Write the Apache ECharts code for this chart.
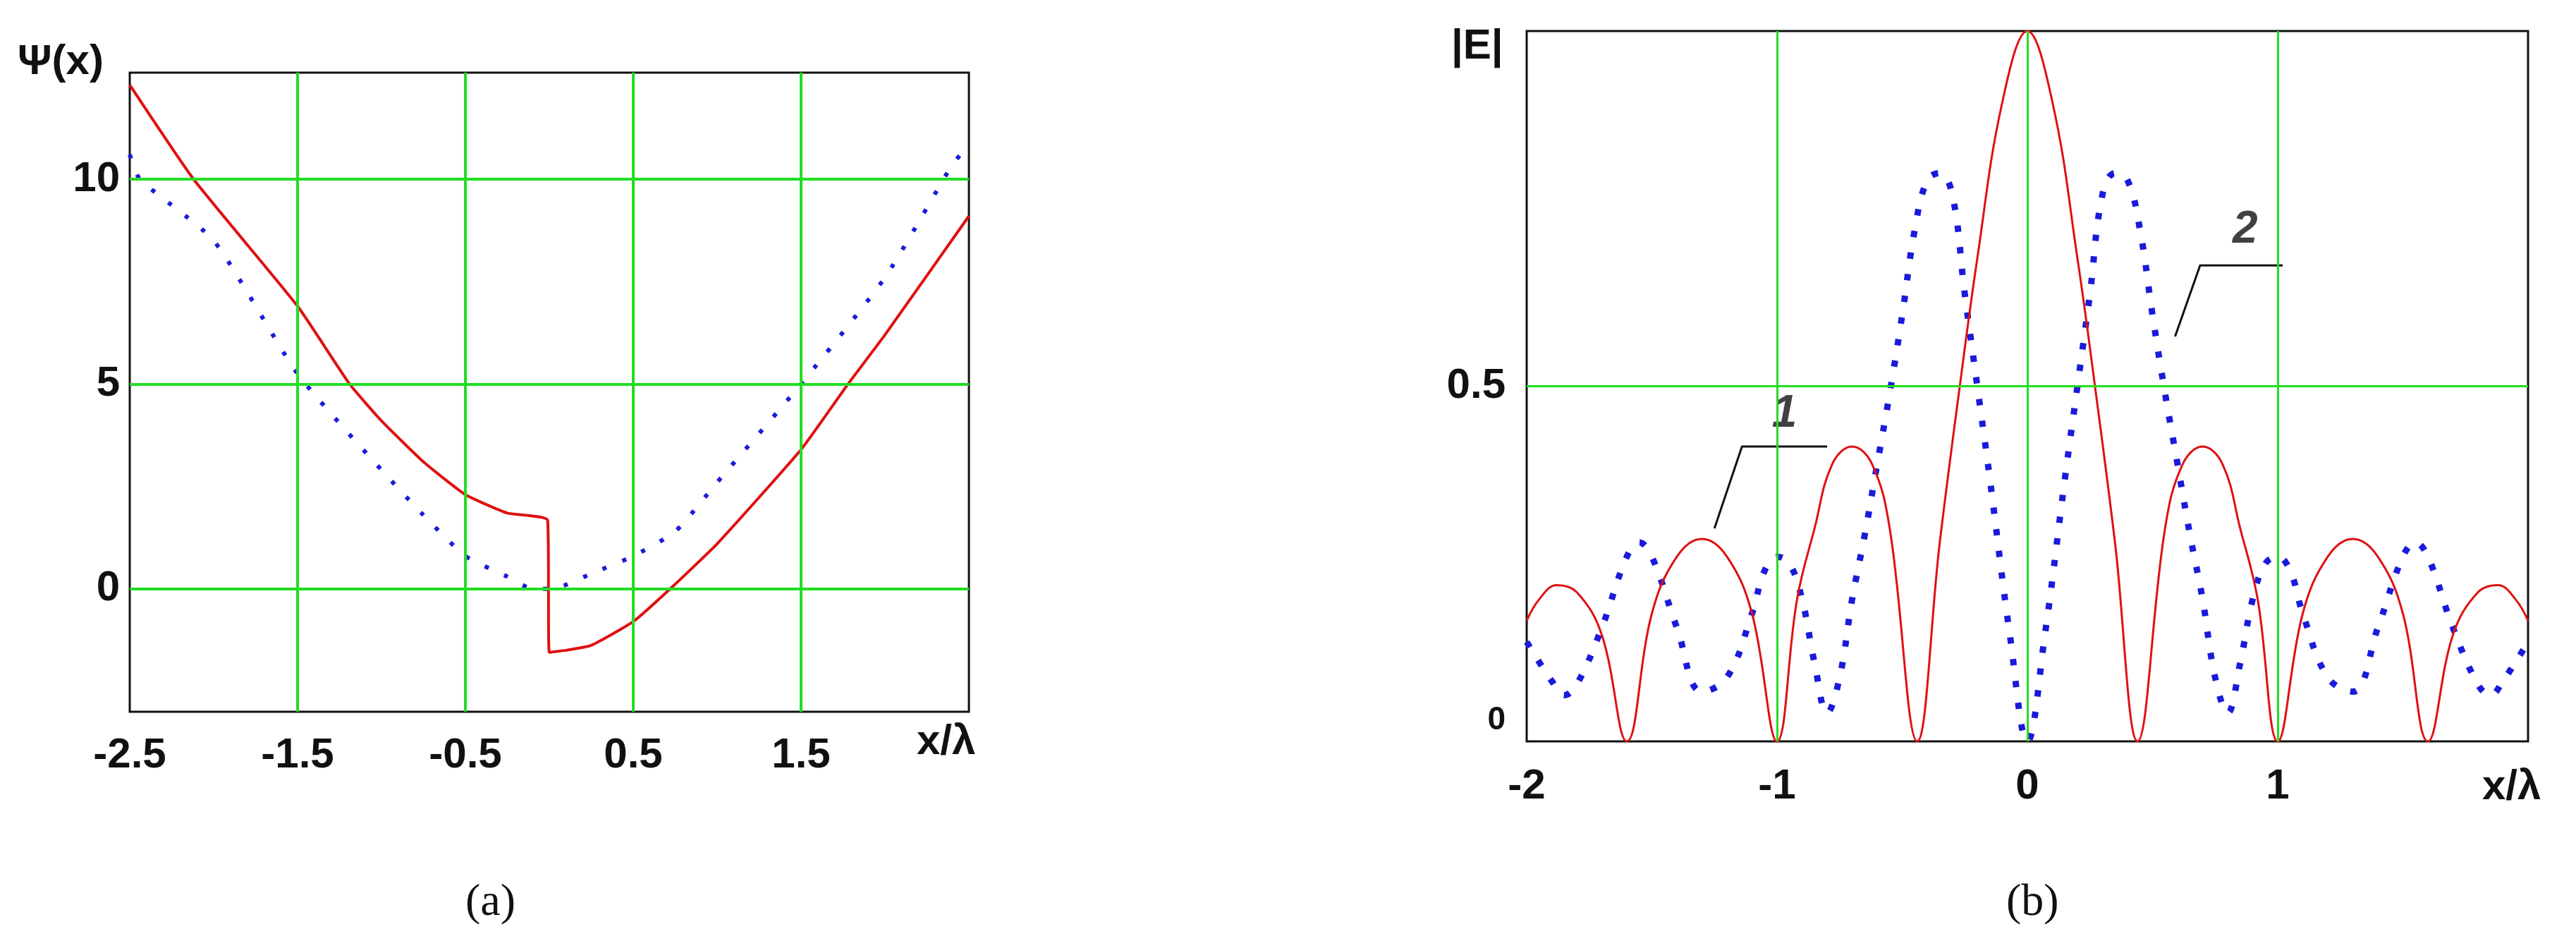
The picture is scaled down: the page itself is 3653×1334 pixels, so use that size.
<!DOCTYPE html>
<html><head><meta charset="utf-8">
<script src="https://cdn.jsdelivr.net/npm/echarts@6/dist/echarts.min.js"></script>
<style>html,body{margin:0;background:#fff}#c{width:3653px;height:1334px}</style>
</head><body><div id="c"></div>
<script>
// Panel (a)
const aRedX = [-2.5,-2.12,-1.5,-1.19,-1.0,-0.75,-0.5,-0.25,-0.01,0.0,0.1,0.25,0.5,0.72,1.0,1.5,1.78,2.0,2.5];
const aRedY = [12.3,10.0,6.9,5.0,4.1,3.1,2.3,1.85,1.67,-1.55,-1.5,-1.38,-0.8,0.0,1.1,3.4,5.0,6.2,9.1];
const aBlueX = [-2.5,-2.44,-2.0,-1.5,-1.0,-0.75,-0.5,-0.25,-0.1,0.0,0.1,0.25,0.5,0.75,1.0,1.5,2.0,2.4,2.45];
const aBlueY = [10.6,10.0,8.5,5.25,2.9,1.8,0.8,0.3,0.0,0.0,0.1,0.37,0.8,1.4,2.6,5.0,7.6,10.35,10.6];
const aXTicks = [-2.5,-1.5,-0.5,0.5,1.5];
const aYTicks = [0,5,10];
const aXGrid = [-1.5,-0.5,0.5,1.5];
// Panel (b)
const bRedX = [-2.0,-1.95,-1.88,-1.8,-1.7,-1.6,-1.5,-1.4,-1.3,-1.2,-1.1,-1.0,-0.92,-0.85,-0.78,-0.7,-0.62,-0.55,-0.44,-0.35,-0.27,-0.2,-0.1,0,0.1,0.2,0.27,0.35,0.44,0.55,0.62,0.7,0.78,0.85,0.92,1.0,1.1,1.2,1.3,1.4,1.5,1.6,1.7,1.8,1.88,1.95,2.0];
const bRedY = [0.17,0.2,0.22,0.21,0.15,0.0,0.18,0.26,0.285,0.26,0.18,0.0,0.2,0.3,0.39,0.415,0.39,0.3,0.0,0.28,0.5,0.68,0.9,1.0,0.9,0.68,0.5,0.28,0.0,0.3,0.39,0.415,0.39,0.3,0.2,0.0,0.18,0.26,0.285,0.26,0.18,0.0,0.15,0.21,0.22,0.2,0.17];
const bBlueX = [-2.0,-1.9,-1.85,-1.8,-1.7,-1.6,-1.55,-1.5,-1.4,-1.3,-1.2,-1.1,-1.05,-1.0,-0.95,-0.9,-0.85,-0.8,-0.75,-0.7,-0.65,-0.6,-0.55,-0.5,-0.45,-0.4,-0.35,-0.3,-0.25,-0.2,-0.15,-0.07,0,0.07,0.15,0.2,0.25,0.3,0.35,0.4,0.45,0.5,0.55,0.6,0.65,0.7,0.75,0.8,0.85,0.9,0.95,1.0,1.05,1.1,1.2,1.3,1.4,1.5,1.55,1.6,1.7,1.8,1.85,1.9,2.0];
const bBlueY = [0.14,0.085,0.065,0.08,0.16,0.26,0.28,0.26,0.16,0.07,0.09,0.18,0.24,0.26,0.25,0.2,0.11,0.04,0.09,0.2,0.29,0.39,0.49,0.6,0.72,0.79,0.8,0.77,0.63,0.5,0.37,0.15,0.0,0.15,0.37,0.5,0.63,0.77,0.8,0.79,0.72,0.6,0.49,0.39,0.29,0.2,0.09,0.04,0.11,0.2,0.25,0.26,0.24,0.18,0.09,0.07,0.16,0.26,0.28,0.26,0.16,0.08,0.065,0.085,0.14];
const bXTicks = [-2,-1,0,1];
const bYTicks = [0,0.5];
const bXGrid = [-1,0,1];
const bYGrid = [0.5];
const lead1X = [-1.25,-1.14,-0.80], lead1Y = [0.30,0.415,0.415];
const lead2X = [0.59,0.69,1.02], lead2Y = [0.57,0.67,0.67];

const zip=(xs,ys)=>xs.map((x,i)=>[x,ys[i]]);
const FONT='"Liberation Sans Narrow","Liberation Sans",Arial,sans-serif';
const green='#22dd22';
const lbl={fontFamily:FONT,fontWeight:'bold',fontSize:60,color:'#111'};
function gridLines(xs,ys,w){
  return {silent:true,symbol:'none',label:{show:false},lineStyle:{color:green,width:w,type:'solid'},
    data:[...xs.map(v=>({xAxis:v})),...ys.map(v=>({yAxis:v}))]};
}
const chart=echarts.init(document.getElementById('c'));
chart.setOption({
  backgroundColor:'#fff',animation:false,
  grid:[{left:184,top:103,width:1190,height:906,show:true,borderColor:'#111',borderWidth:3,backgroundColor:'transparent'},
        {left:2165,top:44,width:1420,height:1007,show:true,borderColor:'#111',borderWidth:3,backgroundColor:'transparent'}],
  xAxis:[
    {type:'value',gridIndex:0,min:-2.5,max:2.5,splitLine:{show:false},axisLine:{show:false},axisTick:{show:false},
     axisLabel:{...lbl,customValues:aXTicks,margin:32}},
    {type:'value',gridIndex:1,min:-2,max:2,splitLine:{show:false},axisLine:{show:false},axisTick:{show:false},
     axisLabel:{...lbl,customValues:bXTicks,margin:34}}
  ],
  yAxis:[
    {type:'value',gridIndex:0,min:-3,max:12.6,splitLine:{show:false},axisLine:{show:false},axisTick:{show:false},
     axisLabel:{...lbl,customValues:aYTicks,margin:14}},
    {type:'value',gridIndex:1,min:0,max:1,splitLine:{show:false},axisLine:{show:false},axisTick:{show:false},
     axisLabel:{...lbl,customValues:bYTicks,margin:30,formatter:v=>v===0?'{z|0}':String(v),
       rich:{z:{fontFamily:FONT,fontWeight:'bold',fontSize:46,color:'#111',padding:[0,0,60,0]}}}}
  ],
  series:[
    {type:'line',xAxisIndex:0,yAxisIndex:0,data:[],markLine:gridLines(aXGrid,aYTicks,4)},
    {type:'line',xAxisIndex:1,yAxisIndex:1,data:[],markLine:gridLines(bXGrid,bYGrid,3)},
    {type:'line',xAxisIndex:0,yAxisIndex:0,data:zip(aBlueX,aBlueY),showSymbol:false,smooth:0.2,lineStyle:{color:'#1a1adb',width:6,type:[6,24]}},
    {type:'line',xAxisIndex:0,yAxisIndex:0,data:zip(aRedX,aRedY),showSymbol:false,smooth:0.15,lineStyle:{color:'#e01010',width:4}},
    {type:'line',xAxisIndex:1,yAxisIndex:1,data:zip(bBlueX,bBlueY),showSymbol:false,smooth:0.4,lineStyle:{color:'#1a1adb',width:9,type:[9,22]}},
    {type:'line',xAxisIndex:1,yAxisIndex:1,data:zip(bRedX,bRedY),showSymbol:false,smooth:0.4,lineStyle:{color:'#e01010',width:3}},
    {type:'line',xAxisIndex:1,yAxisIndex:1,data:zip(lead1X,lead1Y),showSymbol:false,lineStyle:{color:'#111',width:3}},
    {type:'line',xAxisIndex:1,yAxisIndex:1,data:zip(lead2X,lead2Y),showSymbol:false,lineStyle:{color:'#111',width:3}},
    {type:'scatter',xAxisIndex:1,yAxisIndex:1,symbolSize:0,data:[[-0.97,0.46,'1'],[0.87,0.72,'2']],
     label:{show:true,formatter:p=>p.data[2],fontFamily:FONT,fontWeight:'bold',fontStyle:'italic',fontSize:64,color:'#111'}}
  ],
  graphic:[
    {type:'text',left:25,top:58,style:{text:'Ψ(x)',font:'bold 60px '+FONT,fill:'#111'}},
    {type:'text',left:1300,top:1022,style:{text:'x/λ',font:'bold 60px '+FONT,fill:'#111'}},
    {type:'text',left:2058,top:36,style:{text:'|E|',font:'bold 60px '+FONT,fill:'#111'}},
    {type:'text',left:3520,top:1086,style:{text:'x/λ',font:'bold 60px '+FONT,fill:'#111'}},
    {type:'text',left:660,top:1248,style:{text:'(a)',font:'64px "Liberation Serif",serif',fill:'#111'}},
    {type:'text',left:2845,top:1248,style:{text:'(b)',font:'64px "Liberation Serif",serif',fill:'#111'}}
  ]
});
</script></body></html>
